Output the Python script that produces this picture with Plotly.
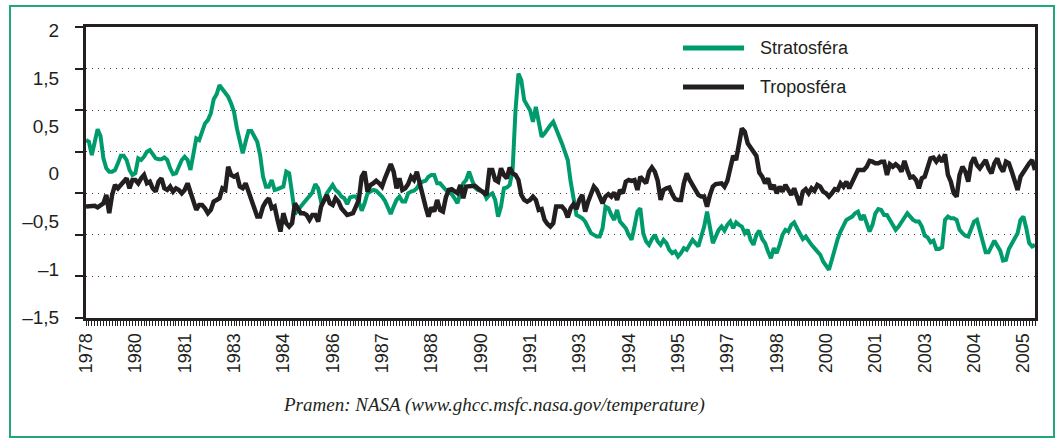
import numpy as np
import plotly.graph_objects as go

# Monthly anomalies (index 0 = first month shown)
stratosfera = [
    0.64,
    0.62, 0.46, 0.64, 0.77, 0.69, 0.42, 0.30, 0.26, 0.26, 0.28,
    0.36, 0.45, 0.45, 0.40, 0.28, 0.22, 0.24, 0.42, 0.40, 0.44,
    0.50, 0.52, 0.47, 0.42, 0.41, 0.41, 0.43, 0.40, 0.30, 0.23,
    0.24, 0.31, 0.40, 0.44, 0.40, 0.28, 0.48, 0.66, 0.64, 0.74,
    0.84, 0.88, 0.96, 1.13, 1.19, 1.30, 1.25, 1.22, 1.16, 1.08,
    0.98, 0.78, 0.62, 0.48, 0.62, 0.75, 0.75, 0.69, 0.62, 0.46,
    0.20, 0.08, 0.08, 0.16, 0.04, 0.05, 0.06, 0.08, 0.26, 0.24,
    0.00, -0.25, -0.20, -0.16, -0.12, -0.08, -0.04, 0.01, 0.11, 0.06,
    -0.10, -0.08, 0.00, 0.06, 0.10, 0.04, 0.01, -0.04, -0.06, -0.13,
    -0.05, -0.04, -0.04, -0.10, -0.21, -0.12, 0.00, 0.02, 0.04, 0.03,
    0.00, -0.04, -0.09, -0.16, -0.25, -0.16, -0.08, -0.04, -0.10,
    -0.10, 0.00, 0.02, 0.03, 0.06, 0.12, 0.14, 0.15, 0.20, 0.22,
    0.22, 0.12, 0.12, 0.08, 0.04, 0.02, -0.01, -0.06, -0.12, 0.00,
    0.12, 0.16, 0.26, 0.16, 0.07, 0.04, 0.03, 0.02, -0.06, -0.02,
    0.00, -0.08, -0.28, -0.16, 0.06, 0.07, 0.10, 0.28, 1.00, 1.44,
    1.36, 1.12, 1.06, 1.00, 0.86, 1.04, 0.86, 0.68, 0.72, 0.78,
    0.82, 0.86, 0.78, 0.68, 0.60, 0.50, 0.40, 0.14, -0.06, -0.26,
    -0.28, -0.30, -0.34, -0.40, -0.48, -0.50, -0.52, -0.52, -0.42, -0.16,
    -0.18, -0.26, -0.32, -0.20, -0.34, -0.38, -0.42, -0.50, -0.56, -0.40,
    -0.22, -0.18, -0.48, -0.58, -0.62, -0.55, -0.50, -0.58, -0.62, -0.56,
    -0.60, -0.68, -0.72, -0.70, -0.76, -0.72, -0.66, -0.68, -0.62, -0.56,
    -0.60, -0.64, -0.52, -0.40, -0.22, -0.45, -0.60, -0.52, -0.44,
    -0.40, -0.45, -0.38, -0.34, -0.42, -0.35, -0.38, -0.40, -0.48, -0.44,
    -0.56, -0.62, -0.50, -0.45, -0.55, -0.60, -0.70, -0.78, -0.66, -0.72,
    -0.62, -0.50, -0.44, -0.46, -0.38, -0.35, -0.42, -0.50, -0.55, -0.52,
    -0.58, -0.62, -0.66, -0.70, -0.74, -0.82, -0.88, -0.92, -0.80, -0.65,
    -0.55, -0.46, -0.38, -0.32,
    -0.30, -0.28, -0.24, -0.22, -0.32, -0.26, -0.36, -0.46, -0.38, -0.24,
    -0.19, -0.20, -0.26, -0.26, -0.32, -0.37, -0.44, -0.40, -0.34, -0.30,
    -0.24, -0.28, -0.32, -0.34, -0.34, -0.40, -0.51, -0.53, -0.59, -0.57,
    -0.67, -0.67, -0.65, -0.32, -0.28, -0.30, -0.30, -0.32, -0.44, -0.48,
    -0.51, -0.52, -0.44, -0.34, -0.32, -0.46, -0.60, -0.71, -0.71, -0.64,
    -0.57, -0.63, -0.69, -0.81, -0.80, -0.67, -0.60, -0.53, -0.48, -0.32,
    -0.28, -0.42, -0.60, -0.64, -0.62,
]

troposfera = [
    -0.16,
    -0.16, -0.15, -0.15, -0.17, -0.14, -0.12, -0.02, -0.24, -0.02, 0.10,
    0.06, 0.10, 0.14, 0.18, 0.06, 0.16, 0.16, 0.12, 0.18, 0.22,
    0.12, 0.14, 0.06, 0.02, 0.14, 0.18, 0.06, 0.04, 0.08, 0.02,
    0.06, 0.04, 0.00, 0.04, 0.12, 0.00, -0.12, -0.20, -0.14, -0.14,
    -0.18, -0.24, -0.20, -0.10, -0.08, -0.06, 0.06, 0.04, 0.32, 0.22,
    0.20, 0.22, 0.08, 0.06, 0.12, 0.02, -0.04, -0.16, -0.28, -0.28,
    -0.16, -0.10, -0.06, -0.18, -0.16, -0.32, -0.46, -0.24, -0.36, -0.40,
    -0.36, -0.12, -0.18, -0.24, -0.24, -0.26, -0.32, -0.26, -0.26, -0.34,
    -0.16, -0.08, -0.02, -0.12, -0.14, -0.06, -0.10, -0.18, -0.22, -0.26,
    -0.25, -0.24, -0.16, -0.08, 0.20, 0.26, 0.02, 0.10, 0.12, 0.15,
    0.12, 0.08, 0.18, 0.28, 0.35, 0.26, 0.06, 0.18, 0.04,
    0.06, 0.11, 0.20, 0.16, 0.26, 0.10, -0.04, -0.16, -0.28, -0.17,
    -0.22, -0.08, -0.20, -0.22, -0.05, 0.04, 0.05, 0.02, 0.00, 0.10,
    -0.06, 0.08, 0.08, 0.08, 0.09, 0.06, 0.03, 0.00, -0.02, 0.28,
    0.28, 0.16, 0.14, 0.30, 0.22, 0.18, 0.31, 0.24, 0.22, 0.16,
    -0.02, -0.08, -0.10, -0.08, -0.04, -0.08, -0.20, -0.19, -0.32, -0.37,
    -0.40, -0.36, -0.16, -0.16, -0.16, -0.20, -0.29, -0.18, -0.13, -0.19,
    -0.08, -0.02, -0.22, -0.10, 0.00, 0.08, 0.04, -0.06, -0.12, -0.04,
    -0.01, -0.04, 0.01, -0.08, 0.04, 0.00, 0.14, 0.16, 0.15, 0.16,
    0.04, 0.20, 0.15, 0.12, 0.26, 0.31, 0.26, 0.15, -0.08, 0.04,
    0.06, 0.07, -0.01, -0.07, -0.08, -0.08, 0.12, 0.24, 0.16, 0.11,
    0.04, -0.02, -0.04, -0.04, -0.16, -0.02, 0.08, 0.11, 0.12,
    0.12, 0.08, 0.15, 0.30, 0.45, 0.40, 0.62, 0.78, 0.74, 0.60,
    0.55, 0.50, 0.45, 0.25, 0.20, 0.12, 0.18, 0.05, 0.10, 0.00,
    0.08, 0.02, 0.10, 0.04, -0.02, 0.06, -0.06, -0.14, 0.02, 0.05,
    0.00, 0.06, 0.03, 0.10, 0.08, 0.02, 0.00, -0.04, 0.00, 0.05,
    0.04, 0.12, 0.08, 0.14,
    0.06, 0.14, 0.23, 0.28, 0.28, 0.28, 0.32, 0.39, 0.38, 0.36,
    0.36, 0.38, 0.38, 0.22, 0.35, 0.32, 0.35, 0.32, 0.26, 0.39,
    0.28, 0.19, 0.20, 0.16, 0.06, 0.18, 0.20, 0.32, 0.42, 0.43,
    0.38, 0.43, 0.38, 0.47, 0.22, 0.14, 0.00, -0.04, 0.22, 0.32,
    0.26, 0.14, 0.36, 0.43, 0.34, 0.30, 0.36, 0.40, 0.30, 0.24,
    0.36, 0.42, 0.32, 0.26, 0.38, 0.36, 0.26, 0.16, 0.04, 0.20,
    0.26, 0.32, 0.36, 0.40, 0.28,
]

rok_popisky = ["1978", "1980", "1981", "1983", "1984", "1986", "1987", "1988",
               "1990", "1991", "1993", "1994", "1995", "1997", "1998", "2000",
               "2001", "2003", "2004", "2005"]
krok_popisku = 17  # one year label every 17 months

y_popisky = ["2", "1,5", "0,5", "0", "\u20130,5", "\u20131", "\u20131,5"]
nazvy = ["Stratosféra", "Troposféra"]
barvy = ["#009b6c", "#231f20"]
tloustky = [4, 4.5]
zdroj = "Pramen: NASA (www.ghcc.msfc.nasa.gov/temperature)"

N = len(stratosfera)
mesice = list(range(N))
ink = "#231f20"

fig = go.Figure()
for nazev, hodnoty, barva, tl in zip(nazvy, [stratosfera, troposfera], barvy, tloustky):
    fig.add_trace(go.Scatter(x=mesice, y=hodnoty, mode="lines", name=nazev,
                             line=dict(color=barva, width=tl),
                             showlegend=False))

W, H = 1058, 440
ml, mr, mt, mb = 86, 23, 27, 122
pw, ph = W - ml - mr, H - mt - mb


def px(x):
    return (x - ml) / pw


def py(y):
    return (H - mb - y) / ph


fig.update_layout(
    width=W, height=H,
    margin=dict(l=ml, r=mr, t=mt, b=mb),
    paper_bgcolor="white", plot_bgcolor="white",
    font=dict(family="Liberation Sans, Arial, sans-serif", size=18, color=ink),
)

fig.update_xaxes(
    range=[0, N - 1],
    tickmode="array",
    tickvals=[i * krok_popisku for i in range(len(rok_popisky))],
    ticktext=rok_popisky,
    tickangle=-90,
    tickfont=dict(size=18, color=ink),
    ticks="outside", ticklen=5, tickwidth=1, tickcolor=ink,
    showline=True, linewidth=3, linecolor=ink, mirror=True,
    showgrid=False, zeroline=False,
    minor=dict(tickmode="linear", tick0=0, dtick=1, ticks="outside",
               ticklen=5, tickwidth=1, tickcolor=ink, showgrid=False),
)

grid_vals = list(np.arange(-1.5, 2.01, 0.5))
label_pos = list(np.linspace(1.965, -1.497, len(y_popisky)))
fig.update_yaxes(
    range=[-1.5, 2],
    tickmode="array", tickvals=label_pos, ticktext=y_popisky,
    tickfont=dict(size=19, color=ink),
    ticks="outside", ticklen=8, tickcolor="rgba(0,0,0,0)",
    ticklabelstandoff=12,
    showline=True, linewidth=3, linecolor=ink, mirror=True,
    showgrid=False, zeroline=False,
    minor=dict(tickmode="array", tickvals=grid_vals, ticks="outside",
               ticklen=8, tickwidth=1.5, tickcolor=ink,
               showgrid=True, gridcolor="#444444", gridwidth=1.4,
               griddash="1.4px,4.6px"),
)

shapes = [
    dict(type="rect", xref="paper", yref="paper",
         x0=px(10), x1=px(1054), y0=py(437), y1=py(6),
         line=dict(color="#20a77c", width=2), layer="below"),
]
legend_y = [48, 87]
annotations = []
for nazev, barva, ly in zip(nazvy, barvy, legend_y):
    shapes.append(dict(type="line", xref="paper", yref="paper",
                       x0=px(683), x1=px(744), y0=py(ly), y1=py(ly),
                       line=dict(color=barva, width=5)))
    annotations.append(dict(xref="paper", yref="paper", x=px(758), y=py(ly),
                            text=nazev, showarrow=False, xanchor="left",
                            yanchor="middle", font=dict(size=18, color=ink)))
annotations.append(dict(xref="paper", yref="paper", x=px(494), y=py(405),
                        text="<i>" + zdroj + "</i>", showarrow=False,
                        xanchor="center", yanchor="middle",
                        font=dict(family="Liberation Serif, Times New Roman, serif",
                                  size=19, color=ink)))
fig.update_layout(shapes=shapes, annotations=annotations)

fig.write_html("out.html",
               config={"displayModeBar": False},
               post_script="document.body.style.margin='0';")
